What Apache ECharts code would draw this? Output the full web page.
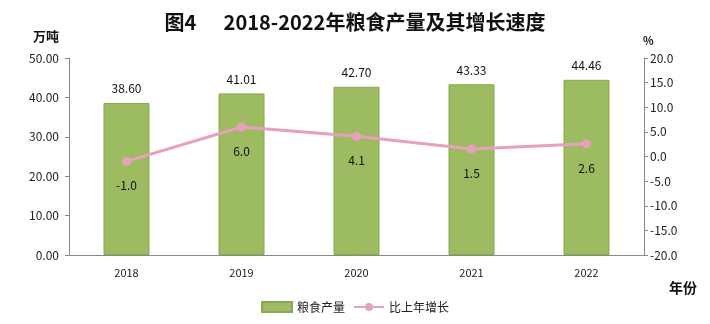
<!DOCTYPE html>
<html><head><meta charset="utf-8">
<script src="https://cdn.jsdelivr.net/npm/echarts@6/dist/echarts.min.js"></script>
<style>html,body{margin:0;padding:0;background:#fff}#c{width:710px;height:324px}</style>
</head><body><div id="c"></div>
<script>
const categories = ['2018','2019','2020','2021','2022'];
const production = [38.60, 41.01, 42.70, 43.33, 44.46];
const growth = [-1.0, 6.0, 4.1, 1.5, 2.6];
const leftTicks = {min:0, max:50, interval:10};
const rightTicks = {min:-20, max:20, interval:5};

const chart = echarts.init(document.getElementById('c'));
const font = '"Noto Sans CJK SC", "Noto Sans", sans-serif';
chart.setOption({
  animation:false,
  textStyle:{fontFamily:font},
  title:[
    {text:'图4      2018-2022年粮食产量及其增长速度', left:'center', top:7,
     textStyle:{fontSize:20, fontWeight:'bold', color:'#111', fontFamily:font}},
    {text:'万吨', left:28, top:25, textStyle:{fontSize:13, fontWeight:'bold', color:'#111'}},
    {text:'%', left:638, top:30, textStyle:{fontSize:11, fontWeight:'bold', color:'#111'}},
    {text:'年份', left:664, top:276, textStyle:{fontSize:14, fontWeight:'bold', color:'#111'}}
  ],
  legend:{bottom:6, left:'center', itemGap:8, itemWidth:30, itemHeight:10,
    textStyle:{fontSize:12, color:'#222'},
    data:[{name:'粮食产量', icon:'rect'}, {name:'比上年增长'}]},
  grid:{left:69, right:66, top:58, bottom:69},
  xAxis:{type:'category', data:categories,
    axisLine:{lineStyle:{color:'#888'}}, axisTick:{show:false},
    axisLabel:{color:'#222', fontSize:11, margin:12}},
  yAxis:[
    {type:'value', min:leftTicks.min, max:leftTicks.max, interval:leftTicks.interval,
     axisLine:{show:true, lineStyle:{color:'#888'}}, axisTick:{show:true, length:4, lineStyle:{color:'#888'}},
     splitLine:{show:false},
     axisLabel:{color:'#222', fontSize:12, formatter:v=>v.toFixed(2), margin:10}},
    {type:'value', min:rightTicks.min, max:rightTicks.max, interval:rightTicks.interval, position:'right',
     axisLine:{show:true, lineStyle:{color:'#888'}}, axisTick:{show:true, length:4, lineStyle:{color:'#888'}},
     splitLine:{show:false},
     axisLabel:{color:'#222', fontSize:12, formatter:v=>v.toFixed(1), margin:6}}
  ],
  series:[
    {name:'粮食产量', type:'bar', data:production, barWidth:46,
     itemStyle:{color:'#9DBB61', borderColor:'#8AA84F', borderWidth:1},
     label:{show:true, position:'top', distance:8, color:'#111', fontSize:12, formatter:p=>p.value.toFixed(2)}},
    {name:'比上年增长', type:'line', yAxisIndex:1, data:growth,
     lineStyle:{color:'#E8A0BF', width:3}, itemStyle:{color:'#E8A0BF'},
     symbol:'circle', symbolSize:9,
     label:{show:true, position:'bottom', distance:14, color:'#111', fontSize:12, formatter:p=>p.value.toFixed(1)}}
  ]
});
</script></body></html>
